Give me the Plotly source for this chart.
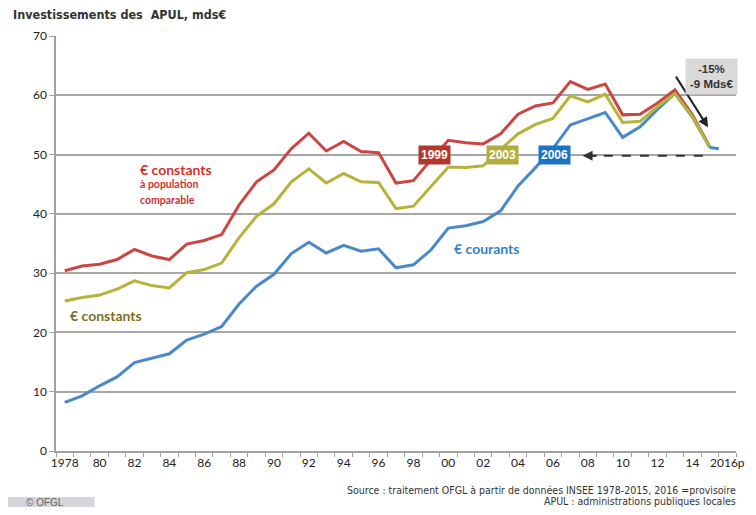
import plotly.graph_objects as go

annees = list(range(1978, 2016))

# € constants à population comparable
constants_pop = [30.4, 31.2, 31.5, 32.3, 34.0, 32.9, 32.3, 34.9, 35.5, 36.5,
                 41.5, 45.4, 47.4, 51.0, 53.6, 50.6, 52.2, 50.5, 50.3, 45.2,
                 45.6, 49.1, 52.4, 52.0, 51.8, 53.5, 56.8, 58.2, 58.7, 62.3,
                 61.0, 61.9, 56.7, 56.8, 58.7, 60.9, 56.7, 51.3]
# € constants
constants = [25.3, 25.9, 26.3, 27.3, 28.7, 27.9, 27.5, 30.1, 30.6, 31.7,
             36.0, 39.6, 41.7, 45.4, 47.6, 45.2, 46.8, 45.4, 45.3, 40.9,
             41.3, 44.6, 47.9, 47.8, 48.1, 50.9, 53.5, 55.1, 56.1, 59.9,
             58.9, 60.2, 55.4, 55.6, 58.1, 60.3, 56.4, 51.2]
# € courants
courants = [8.2, 9.3, 11.0, 12.5, 14.9, 15.7, 16.4, 18.7, 19.7, 21.0,
            24.8, 27.8, 29.8, 33.3, 35.2, 33.4, 34.7, 33.7, 34.1, 30.9,
            31.4, 33.9, 37.6, 38.0, 38.7, 40.5, 44.7, 47.8, 51.0, 55.0,
            56.1, 57.1, 52.9, 54.7, 57.6, 60.3, 56.3, 51.2]
# 2016 provisoire
annees_prov = [2015, 2016]
courants_prov = [51.2, 50.8]

tick_annees = list(range(1978, 2017, 2))
tick_textes = ["1978"] + [str(a)[2:] for a in range(1980, 2016, 2)] + ["2016p"]

ROUGE = "#cc4641"
OLIVE = "#b7b23a"
BLEU = "#4a89c9"

fig = go.Figure()
fig.add_trace(go.Scatter(x=annees, y=constants_pop, mode="lines",
                         line=dict(color=ROUGE, width=3)))
fig.add_trace(go.Scatter(x=annees, y=courants, mode="lines",
                         line=dict(color=BLEU, width=3)))
fig.add_trace(go.Scatter(x=annees, y=constants, mode="lines",
                         line=dict(color=OLIVE, width=3)))
fig.add_trace(go.Scatter(x=annees_prov, y=courants_prov, mode="lines",
                         line=dict(color=BLEU, width=3, dash="dash")))

narrow = "Liberation Sans Narrow, Arial Narrow, DejaVu Sans Condensed, sans-serif"
calib = "Lato, Open Sans, sans-serif"

# la page ajoute 8 px de marge : figure réduite pour tenir sans barres de défilement
fig.update_layout(
    width=740, height=499,
    margin=dict(l=48, r=3, t=28, b=56),
    paper_bgcolor="white", plot_bgcolor="white",
    showlegend=False,
    xaxis=dict(range=[1977.5, 2016.5], tickvals=tick_annees, ticktext=tick_textes,
               ticks="", showgrid=False, showline=True, linecolor="#a0a0a0", linewidth=1.5,
               ticklabeloverflow="allow",
               tickfont=dict(family=calib, size=12, color="#222222"),
               minor=dict(tick0=1977.5, dtick=1, ticks="outside", ticklen=4,
                          tickcolor="#a0a0a0", showgrid=False),
               zeroline=False),
    yaxis=dict(range=[0, 70], dtick=10, ticks="outside", ticklen=5, tickcolor="#a0a0a0",
               showgrid=True, gridcolor="#a6a6a6", gridwidth=1.5,
               showline=True, linecolor="#a0a0a0", linewidth=1.5,
               tickfont=dict(family=calib, size=12, color="#222222"),
               zeroline=False),
)

# titre
fig.add_annotation(xref="paper", yref="paper", x=-0.066, y=1.052, xanchor="left", yanchor="middle",
                   text="<b>Investissements des  APUL, mds€</b>", showarrow=False,
                   font=dict(family=narrow, size=12.5, color="#333333"))

# libellés des séries
fig.add_annotation(x=1982.2, y=47.5, xanchor="left", text="<b>€ constants</b>", showarrow=False,
                   font=dict(family=calib, size=14, color="#d0312d"))
fig.add_annotation(x=1982.2, y=45.0, xanchor="left", text="<b>à population</b>", showarrow=False,
                   font=dict(family=calib, size=10.5, color="#d0312d"))
fig.add_annotation(x=1982.2, y=42.3, xanchor="left", text="<b>comparable</b>", showarrow=False,
                   font=dict(family=calib, size=10.5, color="#d0312d"))
fig.add_annotation(x=1978.2, y=22.8, xanchor="left", text="<b>€ constants</b>", showarrow=False,
                   font=dict(family=calib, size=14, color="#7d7024"))
fig.add_annotation(x=2000.2, y=34.1, xanchor="left", text="<b>€ courants</b>", showarrow=False,
                   font=dict(family=calib, size=14, color="#2f84cf"))

# années de retour au niveau de 2015
for an, txt, bg in [(1999.2, "1999", "#b3372c"), (2003.1, "2003", "#b3ad3c"), (2006.1, "2006", "#1a73c4")]:
    fig.add_annotation(x=an, y=50, text="<b>" + txt + "</b>", showarrow=False,
                       bgcolor=bg, borderpad=2,
                       font=dict(family="Liberation Sans, Arial, sans-serif", size=12, color="white"))

# flèche pointillée
fig.add_shape(type="line", x0=2014.6, y0=49.8, x1=2008.1, y1=49.8,
              line=dict(color="#333333", width=2, dash="dash"))
fig.add_annotation(x=2007.7, y=49.8, ax=2008.6, ay=49.8, axref="x", ayref="y", text="",
                   showarrow=True, arrowhead=2, arrowsize=1, arrowwidth=2, arrowcolor="#333333")

# flèche de baisse
fig.add_annotation(x=2014.9, y=54.6, ax=2013.0, ay=63.4, axref="x", ayref="y", text="",
                   showarrow=True, arrowhead=2, arrowsize=1, arrowwidth=2, arrowcolor="#222222")
fig.add_annotation(xref="paper", x=1.0029, xanchor="right", y=63.2, text="<b>-15%<br>-9 Mds€</b>",
                   showarrow=False, bgcolor="#d9d9d9", borderpad=4, align="center",
                   font=dict(family="Liberation Sans, Arial, sans-serif", size=11.5, color="#333333"))

# source
fig.add_annotation(xref="paper", yref="paper", x=1.0029, y=-0.0928, xanchor="right", yanchor="middle",
                   text="Source : traitement OFGL à partir de données INSEE 1978-2015, 2016 =provisoire",
                   showarrow=False, font=dict(family=narrow, size=10.5, color="#333333"))
fig.add_annotation(xref="paper", yref="paper", x=1.0029, y=-0.1193, xanchor="right", yanchor="middle",
                   text="APUL : administrations publiques locales",
                   showarrow=False, font=dict(family=narrow, size=10.5, color="#333333"))

# © OFGL
fig.add_shape(type="rect", xref="paper", yref="paper", x0=-0.0769, x1=0.0566, y0=-0.111, y1=-0.136,
              fillcolor="#d3d7db", line=dict(width=0))
fig.add_annotation(xref="paper", yref="paper", x=-0.047, y=-0.1235, xanchor="left", yanchor="middle",
                   text="© OFGL", showarrow=False,
                   font=dict(family="Liberation Sans, Arial, sans-serif", size=10, color="#666666"))

fig.write_html("out.html")
